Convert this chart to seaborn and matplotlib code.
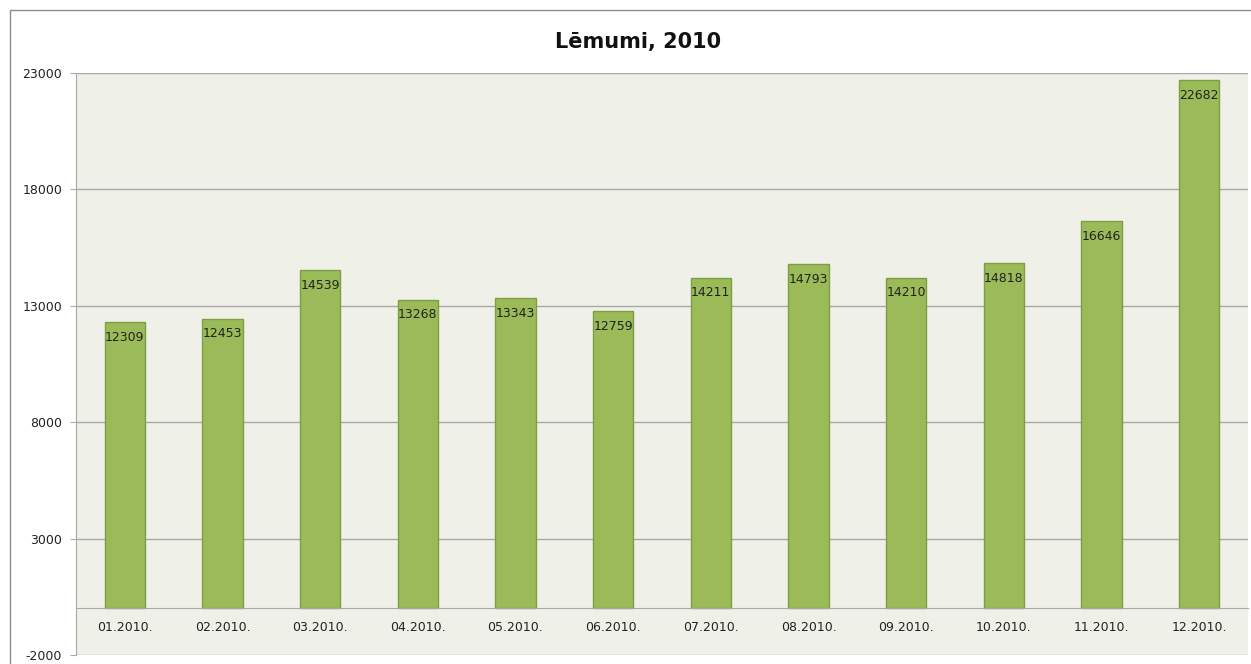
import matplotlib
matplotlib.use("Agg")
import matplotlib.pyplot as plt
import matplotlib.patches as patches
import seaborn as sns
import pandas as pd

# monthly decisions in 2010
months = ["01.2010.", "02.2010.", "03.2010.", "04.2010.", "05.2010.", "06.2010.",
          "07.2010.", "08.2010.", "09.2010.", "10.2010.", "11.2010.", "12.2010."]
values = [12309, 12453, 14539, 13268, 13343, 12759, 14211, 14793, 14210, 14818, 16646, 22682]
y_ticks = [-2000, 3000, 8000, 13000, 18000, 23000]

df = pd.DataFrame({"month": months, "value": values})

sns.set_style("white")
plt.rcParams["font.family"] = ["DejaVu Sans"]

fig = plt.figure(figsize=(12.51, 6.64), dpi=100)
ax = fig.add_axes([76 / 1251, 1 - 655 / 664, 1172 / 1251, 582 / 664])
ax.set_facecolor("#EFF1E9")

sns.barplot(data=df, x="month", y="value", ax=ax, color="#9BBB59",
            edgecolor="#7F9D45", linewidth=1, width=0.41, saturation=1)

ax.set_ylim(-2000, 23000)
ax.set_xlim(-0.5, len(months) - 0.5)
ax.set_yticks(y_ticks)
ax.set_yticklabels([str(t) for t in y_ticks], fontsize=9, color="#222222")
ax.yaxis.grid(True, color="#A8A8A8", linewidth=1)
ax.set_axisbelow(True)

# x axis sits at zero, ticks between categories
ax.spines["bottom"].set_position(("data", 0))
ax.spines["bottom"].set_color("#A8A8A8")
ax.spines["left"].set_color("#A8A8A8")
ax.spines["top"].set_visible(False)
ax.spines["right"].set_visible(False)
ax.set_xticks(range(len(months)))
ax.set_xticklabels(months, fontsize=9, color="#222222")
ax.set_xticks([i - 0.5 for i in range(len(months) + 1)], minor=True)
ax.tick_params(axis="x", which="major", length=0, pad=9)
ax.tick_params(axis="x", which="minor", length=4, color="#A8A8A8", direction="out")
ax.tick_params(axis="y", length=4, color="#A8A8A8", pad=6, left=True)
ax.set_xlabel("")
ax.set_ylabel("")

for i, v in enumerate(values):
    ax.annotate(str(v), (i, v), xytext=(0, -11), textcoords="offset points",
                ha="center", va="center", fontsize=9, color="#222222")

fig.text(638 / 1251, 1 - 42 / 664, "Lēmumi, 2010", ha="center", va="center",
         fontsize=15, fontweight="bold", color="#111111")

# outer chart border (right and bottom edges fall outside the image)
fig.patches.append(patches.Rectangle((10 / 1251, -0.1), 1.1, 1.1 - 10 / 664,
                                     transform=fig.transFigure, fill=False,
                                     edgecolor="#8C8C8C", linewidth=1))

fig.savefig("out.png", dpi=100)
